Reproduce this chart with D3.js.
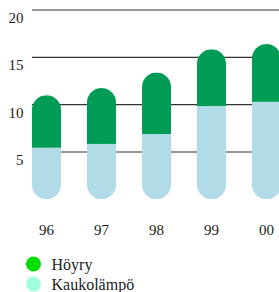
<!DOCTYPE html>
<html lang="fi">
<head>
    <meta charset="UTF-8">
    <title>Höyry ja kaukolämpö</title>
    <script src="https://d3js.org/d3.v7.min.js"></script>
    <style>
        body { margin: 0; background: #fff; }
        svg text { font-family: "Times New Roman", Times, "Liberation Serif", "DejaVu Serif", serif; fill: #222; }
        .grid line { stroke: #333; stroke-width: 1.2; }
    </style>
</head>
<body>
    <svg id="chart"></svg>

    <script>
        // data
        var years = ["96", "97", "98", "99", "00"];
        var kaukolampo = [5.45, 5.85, 6.9, 9.85, 10.3];
        var hoyry = [5.55, 5.9, 6.5, 6.0, 6.1];
        var yTicks = [5, 10, 15, 20];
        var seriesNames = ["Höyry", "Kaukolämpö"];
        var legendColors = ["#00e000", "#9fffde"];

        var width = 279, height = 292;
        var barWidth = 29;

        var svg = d3.select("#chart")
            .attr("width", width)
            .attr("height", height);

        var x = d3.scalePoint()
            .domain(years)
            .range([46.5, 266.5]);

        var y = d3.scaleLinear()
            .domain([0, 20])
            .range([199.3, 10]);

        // gridlines
        var grid = svg.append("g").attr("class", "grid");
        grid.selectAll("line")
            .data(yTicks)
            .enter().append("line")
            .attr("x1", 32)
            .attr("x2", width)
            .attr("y1", function(d) { return y(d); })
            .attr("y2", function(d) { return y(d); });

        // y labels (sit under the lines)
        svg.append("g").selectAll("text")
            .data(yTicks)
            .enter().append("text")
            .attr("x", 23.5)
            .attr("y", function(d) { return y(d) + 13; })
            .attr("text-anchor", "end")
            .style("font-size", "15px")
            .text(function(d) { return d; });

        // bars: pill shape clipped, stacked rects inside
        var defs = svg.append("defs");
        years.forEach(function(yr, i) {
            var total = kaukolampo[i] + hoyry[i];
            var x0 = x(yr) - barWidth / 2;
            defs.append("clipPath")
                .attr("id", "pill" + i)
                .append("rect")
                .attr("x", x0)
                .attr("y", y(total))
                .attr("width", barWidth)
                .attr("height", y(0) - y(total))
                .attr("rx", barWidth / 2)
                .attr("ry", barWidth / 2);

            var g = svg.append("g").attr("clip-path", "url(#pill" + i + ")");
            g.append("rect")
                .attr("x", x0)
                .attr("y", y(kaukolampo[i]))
                .attr("width", barWidth)
                .attr("height", y(0) - y(kaukolampo[i]))
                .attr("fill", "#b1dbe7");
            g.append("rect")
                .attr("x", x0)
                .attr("y", y(total))
                .attr("width", barWidth)
                .attr("height", y(kaukolampo[i]) - y(total))
                .attr("fill", "#009c56");
        });

        // x labels
        svg.append("g").selectAll("text")
            .data(years)
            .enter().append("text")
            .attr("x", function(d) { return x(d); })
            .attr("y", 235)
            .attr("text-anchor", "middle")
            .style("font-size", "15px")
            .text(function(d) { return d; });

        // legend
        var legend = svg.append("g").selectAll("g")
            .data(seriesNames)
            .enter().append("g")
            .attr("transform", function(d, i) { return "translate(33.5," + (264 + i * 20) + ")"; });
        legend.append("circle")
            .attr("r", 7.5)
            .attr("fill", function(d, i) { return legendColors[i]; });
        legend.append("text")
            .attr("x", 18)
            .attr("y", 5.5)
            .style("font-size", "16px")
            .text(function(d) { return d; });
    </script>
</body>
</html>
